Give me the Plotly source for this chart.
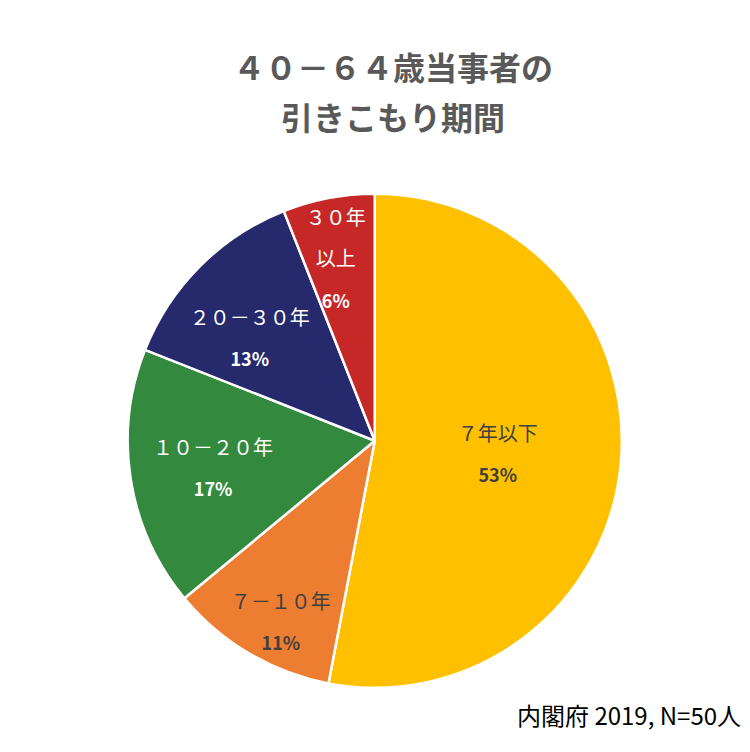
import plotly.graph_objects as go

labels = ['７年以下', '７－１０年', '１０－２０年', '２０－３０年', '３０年<br>以上']
values = [53, 11, 17, 13, 6]
colors = ['#FFC000', '#ED7D31', '#33893D', '#262A6C', '#C62828']
text_colors = ['#404040', '#404040', '#FFFFFF', '#FFFFFF', '#FFFFFF']

FONT = 'Noto Sans CJK JP'

# big base size only sets the line spacing; spans set the visible sizes
BLANK = '<span style="font-size:20px">\u00a0</span><br>'
TPL = ('<span style="font-size:20px">%{label}</span><br>'
       '<span style="font-size:18px"><b>%{percent:.0%}</b></span>')
# a leading blank line nudges labels of the narrow slices toward the centre
templates = [TPL, BLANK + TPL, TPL, BLANK + TPL, BLANK + TPL]

fig = go.Figure()

fig.add_trace(go.Pie(
    labels=labels,
    values=values,
    sort=False,
    direction='clockwise',
    rotation=0,
    marker=dict(colors=colors, line=dict(color='white', width=2.5)),
    texttemplate=templates,
    textposition='inside',
    insidetextorientation='horizontal',
    textfont=dict(family=FONT, size=32, color=text_colors),
    hoverinfo='label+percent',
    showlegend=False,
    domain=dict(x=[0.159, 0.819], y=[0.096, 0.753]),
))

fig.update_layout(
    width=750,
    height=752,
    margin=dict(l=0, r=0, t=0, b=0),
    paper_bgcolor='white',
    uniformtext=dict(minsize=32, mode='show'),
    annotations=[
        dict(text='<b>４０－６４歳当事者の</b>', x=0.513, y=1 - 33 / 752,
             xref='paper', yref='paper', showarrow=False,
             font=dict(family=FONT, size=32, color='#595959')),
        dict(text='<b>引きこもり期間</b>', x=0.513, y=1 - 83 / 752,
             xref='paper', yref='paper', showarrow=False,
             font=dict(family=FONT, size=32, color='#595959')),
        dict(text='内閣府 2019, N=50人', x=0.98, y=1 - 726 / 752,
             xref='paper', yref='paper', xanchor='right', showarrow=False,
             font=dict(family=FONT, size=24, color='black')),
    ],
)

fig.write_html('out.html')
